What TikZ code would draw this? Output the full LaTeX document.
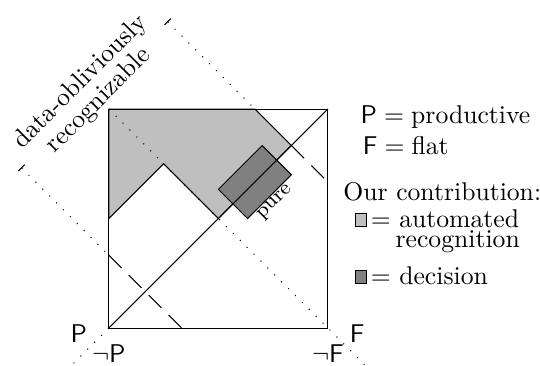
\documentclass[tikz,border=0pt]{standalone}
\usepackage{amsmath}
\usepackage{amssymb}
\usetikzlibrary{calc, positioning}
\usetikzlibrary{arrows.meta}

\begin{document}
\begin{tikzpicture}[
  dotline/.style={dash pattern=on 0.4pt off 3.4pt},
  dashline/.style={dash pattern=on 7pt off 4pt},
  autofill/.style={fill=black!25},
  decfill/.style={fill=black!50},
  legtext/.style={inner sep=0pt, anchor=base west},
  legbox/.style={draw, minimum width=0.15cm, minimum height=0.18cm, inner sep=0pt, anchor=south west}
]
\def\s{3}
\useasboundingbox (-1.49,-0.507) rectangle (5.904,4.493);

\coordinate (O) at (0,0);
\coordinate (R) at (\s,0);
\coordinate (T) at (\s,\s);
\coordinate (L) at (0,\s);
\coordinate (Pa) at (2,\s);
\coordinate (Pb) at (\s,2);
\coordinate (Qa) at (0,1);
\coordinate (Qb) at (1,0);
\coordinate (X) at (2.5,2.5);
\coordinate (Y) at (1.5,1.5);
\coordinate (Z) at (0.75,2.25);
\coordinate (W) at (0,1.5);
\coordinate (D1) at (1.5,1.9);
\coordinate (D2) at (2.1,2.5);
\coordinate (D3) at (2.5,2.1);
\coordinate (D4) at (1.9,1.5);
\coordinate (TA) at (0.8,4.2);
\coordinate (TB) at (-1.2,2.2);

\draw[autofill] (L) -- (Pa) -- (X) -- (Y) -- (Z) -- (W) -- cycle;
\draw[decfill] (D1) -- (D2) -- (D3) -- (D4) -- cycle;

\draw (O) -- (T);
\draw[dotline] (O) -- (-0.5,-0.5);
\draw[dotline] (L) -- (3.5,-0.5);
\draw[dashline] (X) -- (Pb);
\draw[dashline] (Qa) -- (Qb);
\draw[dotline, {Bar[width=3.5pt]}-] (TA) -- (Pa);
\draw[dotline, {Bar[width=3.5pt]}-] (TB) -- (Qa);
\draw (O) rectangle (T);

\node[rotate=45, anchor=north, font=\footnotesize, inner sep=0.5pt] (purelbl) at ($(D3)!0.5!(D4)$) {pure};
\node[rotate=45, align=center] (oblbl) at (-0.26,3.24) {data-obliviously\\[-2pt]recognizable};

\node[left=5pt, yshift=-2pt] (lblP) at (O) {$\mathsf{P}$};
\node[below=3pt] (lblnP) at (O) {$\neg\mathsf{P}$};
\node[right=5pt, yshift=-2pt] (lblF) at (R) {$\mathsf{F}$};
\node[below=3pt] (lblnF) at (R) {$\neg\mathsf{F}$};

\node[legtext] (legP) at (3.44,2.80) {$\mathsf{P} = \text{productive}$};
\node[legtext] (legF) at (3.47,2.38) {$\mathsf{F} = \text{flat}$};
\node[legtext] (legour) at (3.205,1.75) {Our contribution:};
\node[legbox, autofill] (boxauto) at (3.37,1.38) {};
\node[legtext] (legauto) at (3.58,1.38) {$=$ automated};
\node[legtext] (legrec) at (3.92,1.11) {recognition};
\node[legbox, decfill] (boxdec) at (3.37,0.60) {};
\node[legtext] (legdec) at (3.58,0.60) {$=$ decision};
\end{tikzpicture}
\end{document}
